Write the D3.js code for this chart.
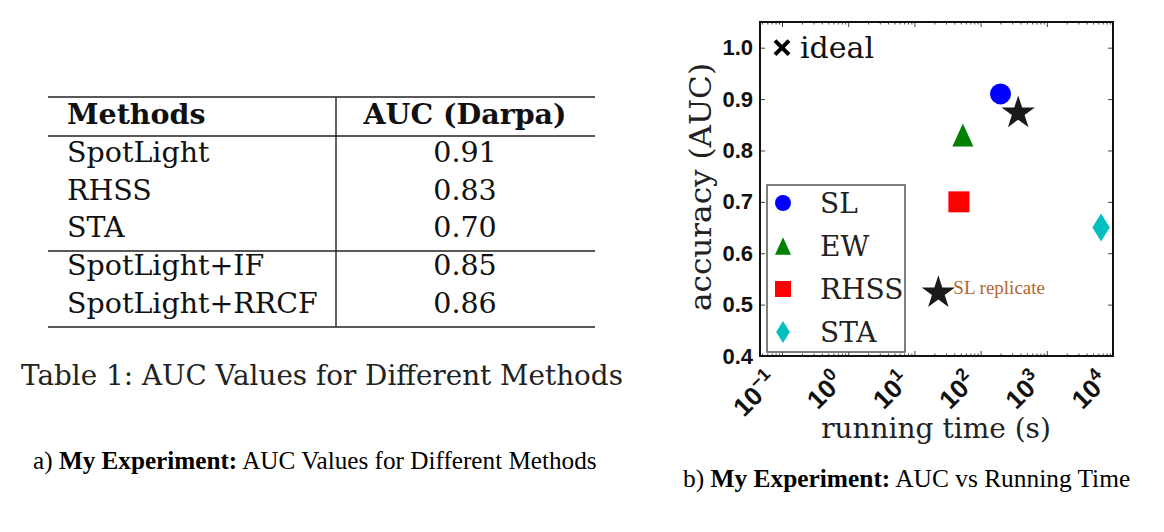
<!DOCTYPE html>
<html>
<head>
<meta charset="utf-8">
<script src="https://cdn.jsdelivr.net/npm/d3@7"></script>
<style>
  html, body { margin: 0; padding: 0; background: #fff; }
  svg { display: block; }
</style>
</head>
<body>
<svg id="chart" width="1164" height="532"></svg>
<script>
// ---------- data ----------
const tableMethods = ["SpotLight", "RHSS", "STA", "SpotLight+IF", "SpotLight+RRCF"];
const tableAUC = ["0.91", "0.83", "0.70", "0.85", "0.86"];
const tableHeader = ["Methods", "AUC (Darpa)"];

const seriesNames = ["SL", "EW", "RHSS", "STA"];
const seriesTime = [200, 54, 47, 6600];        // running time (s)
const seriesAUC = [0.91, 0.83, 0.70, 0.65];
const seriesColors = ["#0000ff", "#008000", "#ff0000", "#00bfbf"];

const slStarTime = [370, 23];                  // black stars
const slStarAUC = [0.87, 0.52];
const slStarLabels = ["", "SL replicate"];

const idealPoint = [0.1, 1.0];
const yTicks = [0.4, 0.5, 0.6, 0.7, 0.8, 0.9, 1.0];
const xTickExps = [-1, 0, 1, 2, 3, 4];

// ---------- setup ----------
const svg = d3.select("#chart");
const cm = "'DejaVu Serif', serif";
const times = "'Liberation Serif', 'Times New Roman', serif";
const sans = "'Liberation Sans', Arial, sans-serif";

// ---------- table (a) ----------
const tbl = svg.append("g");
const tL = 48, tR = 595, tMid = 336;
const ruleYs = [97, 136, 251, 327];
tbl.selectAll("line.rule").data(ruleYs).join("line")
  .attr("x1", tL).attr("x2", tR).attr("y1", d => d).attr("y2", d => d)
  .attr("stroke", "#222").attr("stroke-width", 1.6);
tbl.append("line").attr("x1", tMid).attr("x2", tMid).attr("y1", 97).attr("y2", 327)
  .attr("stroke", "#222").attr("stroke-width", 1.4);

const tFont = 28.5;
tbl.append("text").attr("x", 67).attr("y", 124).text(tableHeader[0])
  .attr("font-family", cm).attr("font-weight", "bold").attr("font-size", tFont).attr("fill", "#111");
tbl.append("text").attr("x", 465).attr("y", 124).attr("text-anchor", "middle").text(tableHeader[1])
  .attr("font-family", cm).attr("font-weight", "bold").attr("font-size", tFont).attr("fill", "#111");

const rowBase = [162, 200, 237, 275, 313];
tbl.selectAll("text.m").data(tableMethods).join("text").attr("class", "m")
  .attr("x", 67).attr("y", (d, i) => rowBase[i]).text(d => d)
  .attr("font-family", cm).attr("font-size", tFont).attr("fill", "#111");
tbl.selectAll("text.v").data(tableAUC).join("text").attr("class", "v")
  .attr("x", 465).attr("y", (d, i) => rowBase[i]).attr("text-anchor", "middle").text(d => d)
  .attr("font-family", cm).attr("font-size", tFont).attr("fill", "#111");

svg.append("text").attr("x", 322).attr("y", 385).attr("text-anchor", "middle")
  .text("Table 1: AUC Values for Different Methods")
  .attr("font-family", cm).attr("font-size", 27.8).attr("fill", "#222");

const capA = svg.append("text").attr("x", 33).attr("y", 469)
  .attr("font-family", times).attr("font-size", 25.2).attr("fill", "#000");
capA.append("tspan").text("a) ");
capA.append("tspan").attr("font-weight", "bold").text("My Experiment:");
capA.append("tspan").text(" AUC Values for Different Methods");

const capB = svg.append("text").attr("x", 683).attr("y", 487)
  .attr("font-family", times).attr("font-size", 25.4).attr("fill", "#000");
capB.append("tspan").text("b) ");
capB.append("tspan").attr("font-weight", "bold").text("My Experiment:");
capB.append("tspan").text(" AUC vs Running Time");

// ---------- scatter (b) ----------
const pL = 760, pR = 1113, pT = 22, pB = 356;
const x = d3.scaleLog().domain([Math.pow(10, -1 - 22 / 66.2), 1e4]).range([pL, pR]);
const y = d3.scaleLinear().domain([0.4, 1.05]).range([pB, pT]);

const plot = svg.append("g");

// minor x ticks
const minor = [];
for (let e = -2; e < 4; e++) for (let m = 2; m <= 9; m++) {
  const v = m * Math.pow(10, e);
  if (v > x.domain()[0] && v < x.domain()[1]) minor.push(v);
}
const major = xTickExps.map(e => Math.pow(10, e));

function styleAxis(g) {
  g.select(".domain").remove();
  g.selectAll(".tick line").attr("stroke", "#444").attr("stroke-width", 1);
}
plot.append("g").attr("transform", `translate(0,${pB})`)
  .call(d3.axisBottom(x).tickValues(major).tickSize(-5).tickFormat(""))
  .call(styleAxis);
plot.append("g").attr("transform", `translate(0,${pB})`)
  .call(d3.axisBottom(x).tickValues(minor).tickSize(-2.5).tickFormat(""))
  .call(styleAxis);
plot.append("g").attr("transform", `translate(0,${pT})`)
  .call(d3.axisTop(x).tickValues(major).tickSize(-5).tickFormat(""))
  .call(styleAxis);
plot.append("g").attr("transform", `translate(0,${pT})`)
  .call(d3.axisTop(x).tickValues(minor).tickSize(-2.5).tickFormat(""))
  .call(styleAxis);
const yAx = plot.append("g").attr("transform", `translate(${pL},0)`)
  .call(d3.axisLeft(y).tickValues(yTicks).tickSize(-5).tickPadding(7).tickFormat(d3.format(".1f")))
  .call(styleAxis);
yAx.selectAll("text").attr("font-family", sans).attr("font-weight", "bold")
  .attr("font-size", 22).attr("fill", "#111");
plot.append("g").attr("transform", `translate(${pR},0)`)
  .call(d3.axisRight(y).tickValues(yTicks).tickSize(-5).tickFormat(""))
  .call(styleAxis);

// x tick labels (rotated, with superscript)
const xl = plot.append("g");
xTickExps.forEach(e => {
  const t = xl.append("text")
    .attr("transform", `translate(${x(Math.pow(10, e)) - 3},${pB + 27}) rotate(-45)`)
    .attr("text-anchor", "end")
    .attr("font-family", sans).attr("font-weight", "bold").attr("font-size", 26).attr("fill", "#111");
  t.append("tspan").text("10");
  t.append("tspan").attr("dy", -11).attr("font-size", 18).text(e < 0 ? "\u2212" + (-e) : String(e));
});

// frame
plot.append("rect").attr("x", pL).attr("y", pT).attr("width", pR - pL).attr("height", pB - pT)
  .attr("fill", "none").attr("stroke", "#111").attr("stroke-width", 2);

// axis labels
plot.append("text").attr("transform", `translate(711,187) rotate(-90)`)
  .attr("text-anchor", "middle").text("accuracy (AUC)")
  .attr("font-family", cm).attr("font-size", 29).attr("fill", "#222")
  .attr("textLength", 248).attr("lengthAdjust", "spacingAndGlyphs");
plot.append("text").attr("x", 936).attr("y", 438).attr("text-anchor", "middle")
  .text("running time (s)").attr("font-family", cm).attr("font-size", 28).attr("fill", "#222");

// marker shapes
const shapes = {
  circle: r => { const p = d3.path(); p.arc(0, 0, r, 0, 2 * Math.PI); return p.toString(); },
  triangle: r => `M0,${-r * 1.1}L${r},${r * 1.1}L${-r},${r * 1.1}Z`,
  square: r => `M${-r},${-r}H${r}V${r}H${-r}Z`,
  diamond: r => `M0,${-r}L${r * 0.62},0L0,${r}L${-r * 0.62},0Z`
};
const shapeKeys = ["circle", "triangle", "square", "diamond"];
const markerR = [10.5, 10.5, 10.5, 14];
const legendR = [8, 8, 8, 11];

plot.selectAll("path.pt").data(seriesNames).join("path").attr("class", "pt")
  .attr("transform", (d, i) => `translate(${x(seriesTime[i])},${y(seriesAUC[i])})`)
  .attr("d", (d, i) => shapes[shapeKeys[i]](markerR[i]))
  .attr("fill", (d, i) => seriesColors[i]);

// stars
const starSym = d3.symbol().type(d3.symbolStar).size(17.5 * 17.5 / 0.8908130915292852);
plot.selectAll("path.star").data(slStarTime).join("path").attr("class", "star")
  .attr("transform", (d, i) => `translate(${x(d)},${y(slStarAUC[i]) - 1.5})`)
  .attr("d", starSym()).attr("fill", "#1a1a1a");
plot.selectAll("text.starlab").data(slStarLabels).join("text").attr("class", "starlab")
  .attr("x", (d, i) => x(slStarTime[i]) + 15).attr("y", (d, i) => y(slStarAUC[i]) + 0)
  .text(d => d).attr("font-family", times).attr("font-size", 19).attr("fill", "#b5652f");

// ideal
const ix = x(idealPoint[0]), iy = y(idealPoint[1]);
plot.append("path").attr("d", `M${ix - 7},${iy - 7}L${ix + 7},${iy + 7}M${ix + 7},${iy - 7}L${ix - 7},${iy + 7}`)
  .attr("stroke", "#000").attr("stroke-width", 4).attr("fill", "none");
plot.append("text").attr("x", ix + 18).attr("y", iy + 10).text("ideal")
  .attr("font-family", cm).attr("font-size", 30).attr("fill", "#111");

// legend
const lg = plot.append("g");
lg.append("rect").attr("x", 767).attr("y", 185).attr("width", 138).attr("height", 167)
  .attr("fill", "#fff").attr("stroke", "#555").attr("stroke-width", 1.5);
const legY = [203, 246, 289, 332];
lg.selectAll("path").data(seriesNames).join("path")
  .attr("transform", (d, i) => `translate(783,${legY[i]})`)
  .attr("d", (d, i) => shapes[shapeKeys[i]](legendR[i]))
  .attr("fill", (d, i) => seriesColors[i]);
lg.selectAll("text").data(seriesNames).join("text")
  .attr("x", 820).attr("y", (d, i) => legY[i] + 10).text(d => d)
  .attr("font-family", cm).attr("font-size", 28).attr("fill", "#222");
</script>
</body>
</html>
